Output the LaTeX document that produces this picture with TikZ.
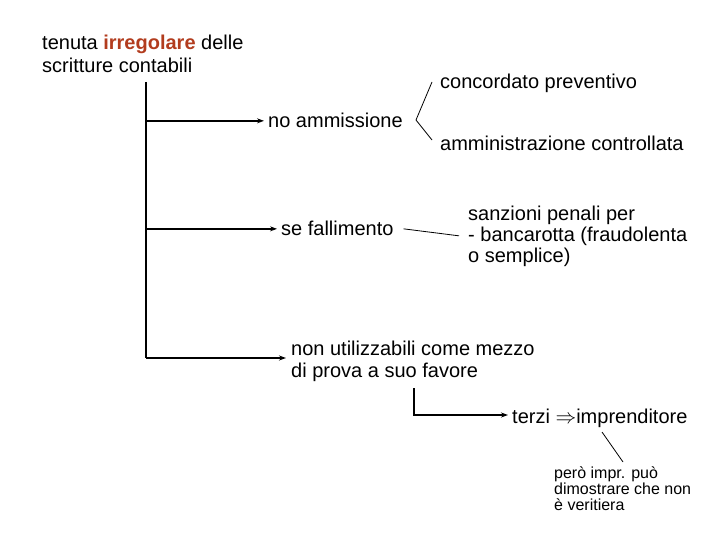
\documentclass[tikz,border=0pt]{standalone}
\usepackage{fontspec}
\setmainfont{Liberation Sans}
\usetikzlibrary{arrows.meta}
\definecolor{irr}{RGB}{178,60,30}
\tikzset{
  lbl/.style={inner sep=0pt, anchor=base west, align=left, font=\fontsize{20}{22}\selectfont},
  small/.style={inner sep=0pt, anchor=base west, align=left, font=\fontsize{16}{16}\selectfont},
  main/.style={line width=1.8pt},
  arr/.style={line width=1.8pt, -{Stealth[length=7pt,width=5pt]}},
  thinl/.style={line width=0.8pt}
}
\begin{document}
\begin{tikzpicture}[x=1pt,y=-1pt]
\useasboundingbox (0,0) rectangle (720,540);
\node[lbl, font=\fontsize{20}{23}\selectfont] (t1) at (42,73) {tenuta \textcolor{irr}{\textbf{irregolare}} delle\\scritture contabili};
\node[lbl] (cp) at (440,89) {concordato preventivo};
\node[lbl] (na) at (268,128) {no ammissione};
\node[lbl] (ac) at (440,151) {amministrazione controllata};
\node[lbl] (sf) at (281,236) {se fallimento};
\node[lbl, font=\fontsize{20}{21}\selectfont] (sp) at (468,262) {sanzioni penali per\\- bancarotta (fraudolenta\\o semplice)};
\node[lbl] (nu) at (291,377) {non utilizzabili come mezzo\\di prova a suo favore};
\node[lbl] (tz) at (512,423) {terzi $\Rightarrow$imprenditore};
\node[small] (pi) at (554,510) {però impr. può\\dimostrare che non\\è veritiera};

\coordinate (top) at (146,82);
\coordinate (bot) at (146,358);
\draw[main] (top) -- (bot);
\draw[arr] (top |- na.west) -- ([xshift=-4pt]na.west);
\draw[arr] (top |- sf.west) -- ([xshift=-4pt]sf.west);
\draw[arr] (bot) -- ([xshift=-5pt]bot -| nu.west);

\coordinate (b1) at (432,82);
\coordinate (bv) at (416,120);
\coordinate (b2) at (432,140);
\draw[thinl] (b1) -- (bv) -- (b2);

\draw[thinl] ([xshift=10pt]sf.east) -- ([xshift=-9pt]sp.west);

\coordinate (c1) at (414,388);
\coordinate (c2) at (414,415);
\draw[arr] (c1) -- (c2) -- ([xshift=-4pt]c2 -| tz.west);

\coordinate (d1) at (602,432);
\coordinate (d2) at (623,462);
\draw[thinl] (d1) -- (d2);
\end{tikzpicture}
\end{document}
